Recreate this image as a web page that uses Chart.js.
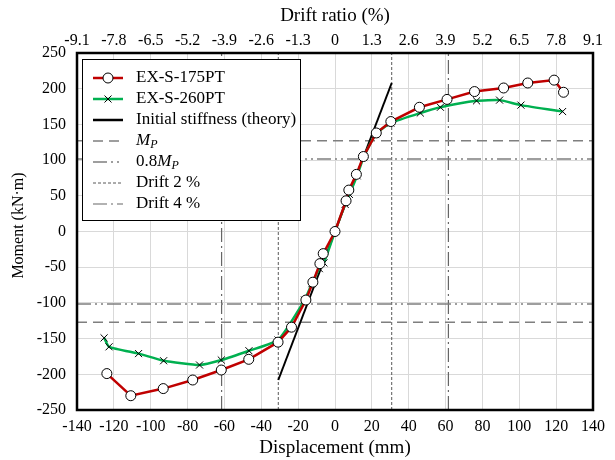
<!DOCTYPE html>
<html>
<head>
<meta charset="utf-8">
<script src="https://cdn.jsdelivr.net/npm/chart.js@4.4.1/dist/chart.umd.min.js"></script>
<style>
  html, body { margin: 0; padding: 0; background: #fff; }
  #wrap { width: 615px; height: 460px; }
</style>
</head>
<body>
<div id="wrap"><canvas id="chart"></canvas></div>
<script>
// EX-S-175PT (open circles)
const s175X = [-123.8, -110.8, -93.2, -77.2, -61.7, -46.8, -30.9, -23.6, -15.8, -12.0, -8.2, -6.4, 0, 6.0, 7.5, 11.6, 15.4, 22.4, 30.3, 45.8, 60.8, 75.7, 91.5, 104.6, 118.9, 124.0];
const s175Y = [-199, -230, -220, -208, -194, -179, -155, -134, -96, -71, -45, -31, 0, 43, 58, 80, 105, 138, 154, 174, 185, 196, 201, 208, 212, 195];
// EX-S-260PT (crosses)
const s260X = [-125.3, -122.6, -106.6, -93.0, -73.5, -61.7, -46.7, -30.9, -16.5, -12.5, -8.5, -6.0, 0, 5.5, 7.8, 12.0, 15.5, 22.0, 30.3, 46.3, 57.2, 76.8, 89.3, 100.9, 123.5];
const s260Y = [-149, -161.5, -171, -181, -187, -180, -167, -152, -96, -73, -52, -44, 0, 38, 52, 78, 104, 136, 152, 166, 174, 183, 184, 177, 168];
// initial stiffness (theory)
const stiffX = [-30.77, 30.77];
const stiffY = [-208, 208];
// reference levels
const mp = 127;
const mp08 = 101.6;
const drift2 = 30.77;
const drift4 = 61.54;
// top axis labels (drift ratio, %)
const driftLabels = ['-9.1', '-7.8', '-6.5', '-5.2', '-3.9', '-2.6', '-1.3', '0', '1.3', '2.6', '3.9', '5.2', '6.5', '7.8', '9.1'];

const serif = "'Liberation Serif', 'Times New Roman', serif";
Chart.defaults.font.family = serif;
Chart.defaults.color = '#000';

const pts = (xs, ys) => xs.map((x, i) => ({ x: x, y: ys[i] }));
const hline = v => [{ x: -140, y: v }, { x: 140, y: v }];
const vline = v => [{ x: v, y: -250 }, { x: v, y: 250 }];

const refGray = '#7f7f7f';
const mpDash = [10, 6];
const mp08Dash = [14, 4, 2, 4, 2, 4];
const d2Dash = [3, 2];
const d4Dash = [14, 4, 2, 4];

function refLine(data, dash, color, width) {
  return { data: data, showLine: true, borderColor: color, borderWidth: width, borderDash: dash, pointRadius: 0, fill: false };
}

const datasets = [
  { label: 'EX-S-175PT', data: pts(s175X, s175Y), showLine: true, borderColor: '#C00000', borderWidth: 2.5,
    pointStyle: 'circle', pointRadius: 5, pointBackgroundColor: '#fff', pointBorderColor: '#000', pointBorderWidth: 1 },
  { label: 'EX-S-260PT', data: pts(s260X, s260Y), showLine: true, borderColor: '#00B050', borderWidth: 2.5, tension: 0.15,
    pointStyle: 'crossRot', pointRadius: 5, pointBorderColor: '#000', pointBorderWidth: 1 },
  { label: 'Initial stiffness (theory)', data: pts(stiffX, stiffY), showLine: true, borderColor: '#000', borderWidth: 2, pointRadius: 0 },
  refLine(hline(mp), mpDash, refGray, 1.5),
  refLine(hline(-mp), mpDash, refGray, 1.5),
  refLine(hline(mp08), mp08Dash, refGray, 1.5),
  refLine(hline(-mp08), mp08Dash, refGray, 1.5),
  refLine(vline(drift2), d2Dash, '#595959', 1),
  refLine(vline(-drift2), d2Dash, '#595959', 1),
  refLine(vline(drift4), d4Dash, '#666', 1.2),
  refLine(vline(-drift4), d4Dash, '#666', 1.2)
];

// legend entries drawn inside the plot
const legendItems = [
  { text: ['EX-S-175PT'], color: '#C00000', width: 2.5, dash: [], marker: 'circle' },
  { text: ['EX-S-260PT'], color: '#00B050', width: 2.5, dash: [], marker: 'cross' },
  { text: ['Initial stiffness (theory)'], color: '#000', width: 2.5, dash: [] },
  { text: ['', 'M', 'P'], color: refGray, width: 1.5, dash: mpDash },
  { text: ['0.8', 'M', 'P'], color: refGray, width: 1.5, dash: mp08Dash },
  { text: ['Drift 2 %'], color: '#595959', width: 1, dash: d2Dash },
  { text: ['Drift 4 %'], color: '#666', width: 1.2, dash: d4Dash }
];

const boxPlugin = {
  id: 'boxPlugin',
  afterDatasetsDraw(chart) {
    const ctx = chart.ctx;
    const a = chart.chartArea;
    ctx.save();
    // legend
    const bx = a.left + 5, by = a.top + 6, bw = 218, bh = 161;
    ctx.fillStyle = '#fff';
    ctx.fillRect(bx, by, bw, bh);
    ctx.strokeStyle = '#000';
    ctx.lineWidth = 1;
    ctx.setLineDash([]);
    ctx.strokeRect(bx + 0.5, by + 0.5, bw, bh);
    legendItems.forEach((it, i) => {
      const y = by + 19 + i * 21;
      ctx.strokeStyle = it.color;
      ctx.lineWidth = it.width;
      ctx.setLineDash(it.dash);
      ctx.beginPath();
      ctx.moveTo(bx + 11, y);
      ctx.lineTo(bx + 41, y);
      ctx.stroke();
      ctx.setLineDash([]);
      const mx = bx + 26;
      if (it.marker === 'circle') {
        ctx.fillStyle = '#fff';
        ctx.strokeStyle = '#000';
        ctx.lineWidth = 1;
        ctx.beginPath();
        ctx.arc(mx, y, 5, 0, Math.PI * 2);
        ctx.fill();
        ctx.stroke();
      } else if (it.marker === 'cross') {
        ctx.strokeStyle = '#000';
        ctx.lineWidth = 1;
        ctx.beginPath();
        ctx.moveTo(mx - 3.5, y - 3.5); ctx.lineTo(mx + 3.5, y + 3.5);
        ctx.moveTo(mx + 3.5, y - 3.5); ctx.lineTo(mx - 3.5, y + 3.5);
        ctx.stroke();
      }
      ctx.fillStyle = '#000';
      ctx.textBaseline = 'middle';
      ctx.textAlign = 'left';
      let tx = bx + 54;
      ctx.font = '17px ' + serif;
      ctx.fillText(it.text[0], tx, y);
      tx += ctx.measureText(it.text[0]).width;
      if (it.text.length > 1) {
        ctx.font = 'italic 17px ' + serif;
        ctx.fillText(it.text[1], tx, y);
        tx += ctx.measureText(it.text[1]).width;
        ctx.font = 'italic 12px ' + serif;
        ctx.fillText(it.text[2], tx, y + 4);
      }
    });
    // plot frame
    ctx.strokeStyle = '#000';
    ctx.lineWidth = 2.5;
    ctx.strokeRect(a.left, a.top, a.right - a.left, a.bottom - a.top);
    ctx.restore();
  }
};

new Chart(document.getElementById('chart'), {
  type: 'scatter',
  data: { datasets: datasets },
  options: {
    responsive: true,
    maintainAspectRatio: false,
    animation: false,
    layout: { padding: { left: 0, right: 22, top: 0, bottom: 0 } },
    plugins: { legend: { display: false }, tooltip: { enabled: false } },
    scales: {
      x: {
        type: 'linear', position: 'bottom', min: -140, max: 140,
        ticks: { stepSize: 20, font: { size: 16 }, padding: 7, maxRotation: 0 },
        grid: { color: '#d9d9d9', drawTicks: false },
        border: { display: false },
        title: { display: true, text: 'Displacement (mm)', font: { size: 19 }, padding: { top: 0, bottom: 1 } },
        afterFit: s => { s.height = 50; }
      },
      x2: {
        type: 'linear', position: 'top', min: -140, max: 140,
        ticks: { stepSize: 20, font: { size: 16 }, padding: 3, maxRotation: 0,
          callback: v => driftLabels[Math.round((v + 140) / 20)] },
        grid: { display: false, drawTicks: false },
        border: { display: false },
        title: { display: true, text: 'Drift ratio (%)', font: { size: 19 }, padding: { top: 5, bottom: 0 } },
        afterFit: s => { s.height = 53; }
      },
      y: {
        type: 'linear', min: -250, max: 250,
        ticks: { stepSize: 50, font: { size: 16 }, padding: 11 },
        grid: { color: '#d9d9d9', drawTicks: false },
        border: { display: false },
        title: { display: true, text: '   Moment (kN·m)', font: { size: 16 }, padding: { top: 9, bottom: 0 } },
        afterFit: s => { s.width = 77; }
      }
    }
  },
  plugins: [boxPlugin]
});
</script>
</body>
</html>
